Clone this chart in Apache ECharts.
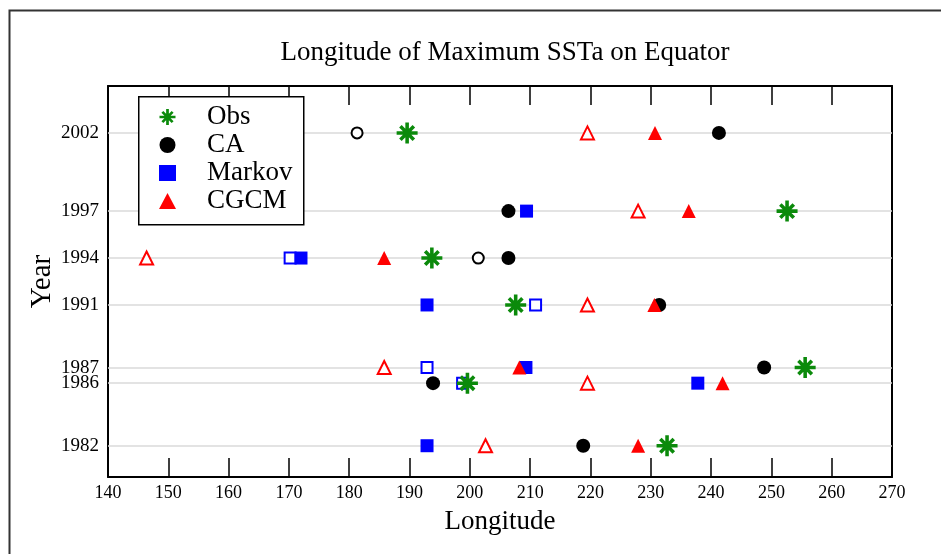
<!DOCTYPE html>
<html>
<head>
<meta charset="utf-8">
<script src="https://cdn.jsdelivr.net/npm/echarts@6/dist/echarts.min.js"></script>
<style>html,body{margin:0;padding:0;background:#fff}#c{width:941px;height:554px}</style>
</head>
<body>
<div id="c"></div>
<script>
const years = [1982, 1986, 1987, 1991, 1994, 1997, 2002];
const obs = [232.7, 199.6, 255.6, 207.6, 193.7, 252.6, 189.6];
const ca = [218.8, 193.9, 248.8, 231.4, 206.4, 206.4, 241.3];
const markov = [192.9, 237.8, 209.3, 192.9, 172.0, 209.4, null];
const cgcm = [227.9, 241.9, 208.2, 230.6, 185.8, 236.3, 230.7];
const caOpen = [null, null, null, null, 201.4, null, 181.3];
const markovOpen = [null, 198.8, 192.9, 210.9, 170.2, null, null];
const cgcmOpen = [202.6, 219.5, 185.8, 219.5, 146.4, 227.9, 219.5];
const xTicks = [140, 150, 160, 170, 180, 190, 200, 210, 220, 230, 240, 250, 260, 270];

function pairs(arr) {
  const out = [];
  arr.forEach((v, i) => { if (v !== null) out.push([v, years[i]]); });
  return out;
}

const FONT = "'Liberation Serif', 'Times New Roman', serif";
const starPath = 'path://M0 8.3 L20 8.3 L20 11.7 L0 11.7 Z M8.3 0 L11.7 0 L11.7 20 L8.3 20 Z M4.8 2.4 L17.6 15.2 L15.2 17.6 L2.4 4.8 Z M17.6 4.8 L4.8 17.6 L2.4 15.2 L15.2 2.4 Z';
const GREEN = '#0b8a0b';

const chart = echarts.init(document.getElementById('c'), null, {renderer: 'canvas'});
chart.setOption({
  animation: false,
  backgroundColor: '#fff',
  title: {
    text: 'Longitude of Maximum SSTa on Equator',
    left: 500, top: 34, textAlign: 'center',
    textStyle: {fontFamily: FONT, fontSize: 27, fontWeight: 'normal', color: '#000'}
  },
  graphic: [
    {type: 'rect', left: 7, top: 8, z: 0, silent: true,
     shape: {width: 945, height: 600}, style: {fill: 'none', stroke: '#333', lineWidth: 2}},
    {type: 'rect', left: 138, top: 96, z: 50, silent: true,
     shape: {width: 165, height: 128}, style: {fill: '#fff', stroke: '#000', lineWidth: 1.5}}
  ],
  legend: {
    data: ['Obs', 'CA', 'Markov', 'CGCM'],
    orient: 'vertical', left: 159, top: 103, z: 60,
    itemWidth: 17, itemHeight: 16, itemGap: 0,
    padding: 0,
    textStyle: {fontFamily: FONT, fontSize: 27, color: '#000', lineHeight: 28, padding: [0, 0, 0, 26]}
  },
  grid: {left: 108, right: 49, top: 86, bottom: 77, containLabel: false},
  xAxis: [
    {type: 'value', min: 140, max: 270, interval: 10, position: 'bottom',
     name: 'Longitude', nameLocation: 'middle', nameGap: 31,
     nameTextStyle: {fontFamily: FONT, fontSize: 27, color: '#000'},
     axisLine: {show: true, onZero: false, lineStyle: {color: '#000', width: 2}},
     axisTick: {show: true, inside: true, length: 19, lineStyle: {color: '#000', width: 1.5}},
     axisLabel: {fontFamily: FONT, fontSize: 18, color: '#000', margin: 7},
     splitLine: {show: false}},
    {type: 'value', min: 140, max: 270, interval: 10, position: 'top',
     axisLine: {show: true, onZero: false, lineStyle: {color: '#000', width: 2}},
     axisTick: {show: true, inside: true, length: 19, lineStyle: {color: '#000', width: 1.5}},
     axisLabel: {show: false},
     splitLine: {show: false}}
  ],
  yAxis: [
    {type: 'value', min: 1980, max: 2005, position: 'left',
     name: 'Year', nameLocation: 'middle', nameGap: 51, nameMoveOverlap: false,
     nameTextStyle: {fontFamily: FONT, fontSize: 29, color: '#000'},
     axisLine: {show: true, onZero: false, lineStyle: {color: '#000', width: 2}},
     axisTick: {show: false},
     axisLabel: {fontFamily: FONT, fontSize: 19, color: '#000', margin: 9, customValues: years,
       formatter: v => String(v)},
     splitLine: {show: false}},
    {type: 'value', min: 1980, max: 2005, position: 'right',
     axisLine: {show: true, onZero: false, lineStyle: {color: '#000', width: 2}},
     axisTick: {show: false}, axisLabel: {show: false}, splitLine: {show: false}}
  ],
  series: [
    {name: 'gridlines', type: 'scatter', data: [], z: 1,
     markLine: {silent: true, z: 1, symbol: ['none', 'none'], label: {show: false},
       lineStyle: {color: '#dadada', width: 1.5, type: 'solid'},
       data: years.map(y => ({yAxis: y}))}},
    {name: 'CA open', type: 'scatter', z: 3, symbol: 'emptyCircle', symbolSize: 11,
     itemStyle: {color: '#000', borderColor: '#000', borderWidth: 1.5, opacity: 1},
     data: pairs(caOpen)},
    {name: 'Markov open', type: 'scatter', z: 3, symbol: 'emptyRect', symbolSize: 11,
     itemStyle: {color: '#0000ff', borderColor: '#0000ff', borderWidth: 1.5, opacity: 1},
     data: pairs(markovOpen)},
    {name: 'CGCM open', type: 'scatter', z: 3, symbol: 'emptyTriangle', symbolSize: 13,
     itemStyle: {color: '#ff0000', borderColor: '#ff0000', borderWidth: 1.5, opacity: 1},
     data: pairs(cgcmOpen)},
    {name: 'CA', type: 'scatter', z: 3, symbol: 'circle', symbolSize: 14,
     itemStyle: {color: '#000', opacity: 1}, data: pairs(ca)},
    {name: 'Markov', type: 'scatter', z: 3, symbol: 'rect', symbolSize: 13,
     itemStyle: {color: '#0000ff', opacity: 1}, data: pairs(markov)},
    {name: 'CGCM', type: 'scatter', z: 3, symbol: 'triangle', symbolSize: 14,
     itemStyle: {color: '#ff0000', opacity: 1}, data: pairs(cgcm)},
    {name: 'Obs', type: 'scatter', z: 3, symbol: starPath, symbolSize: 21,
     itemStyle: {color: GREEN, opacity: 1}, data: pairs(obs)}
  ]
});
</script>
</body>
</html>
